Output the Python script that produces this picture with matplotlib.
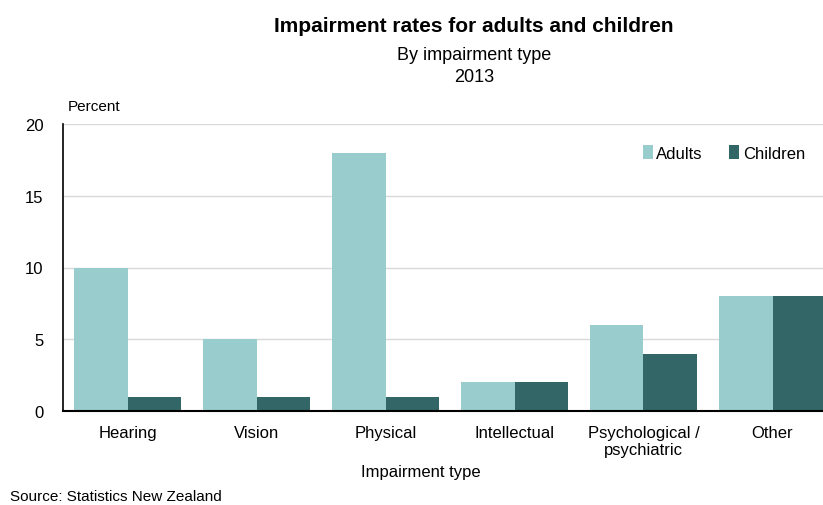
import numpy as np
import matplotlib.pyplot as plt

categories = ['Hearing', 'Vision', 'Physical', 'Intellectual', 'Psychological /\npsychiatric', 'Other']
adults = [10, 5, 18, 2, 6, 8]
children = [1, 1, 1, 2, 4, 8]

plt.rcParams['font.family'] = ['Liberation Sans', 'DejaVu Sans']

fig = plt.figure(figsize=(8.23, 5.06), dpi=100)
ax = fig.add_axes([63/823, 1 - 412/506, 774/823, (412 - 125)/506])

x = np.arange(len(categories))
w = 0.415
ax.bar(x - w/2, adults, width=w, color='#99cccc', label='Adults', zorder=2)
ax.bar(x + w/2, children, width=w, color='#336666', label='Children', zorder=2)

ax.set_xlim(-0.5, 5.5)
ax.set_ylim(0, 20)
ax.set_yticks([0, 5, 10, 15, 20])
ax.yaxis.grid(True, color='#d9d9d9', linewidth=1, zorder=0)
ax.set_axisbelow(True)
ax.spines['top'].set_visible(False)
ax.spines['right'].set_visible(False)
ax.spines['left'].set_linewidth(1.2)
ax.spines['bottom'].set_linewidth(1.5)
ax.set_xticks(x)
ax.set_xticklabels(categories, fontsize=12)
ax.tick_params(axis='x', length=0, pad=10)
ax.tick_params(axis='y', length=0, pad=14, labelsize=12)

tx = 474 / 823
fig.text(tx, 1 - 27/506, 'Impairment rates for adults and children',
         ha='center', va='center', fontsize=15, fontweight='bold')
fig.text(tx, 1 - 55/506, 'By impairment type', ha='center', va='center', fontsize=13)
fig.text(tx, 1 - 78/506, '2013', ha='center', va='center', fontsize=13)
fig.text(68/823, 1 - 107/506, 'Percent', ha='left', va='center', fontsize=11)
fig.text(421/823, 1 - 472/506, 'Impairment type', ha='center', va='center', fontsize=12)
fig.text(10/823, 1 - 497/506, 'Source: Statistics New Zealand', ha='left', va='center', fontsize=11)

fig.legend(loc='center right', bbox_to_anchor=(820/823, 1 - 154/506), ncol=2, frameon=False,
           fontsize=12, handlelength=0.6, handleheight=0.9, handletextpad=0.2, columnspacing=1.6)

fig.savefig('out.png', dpi=100)
